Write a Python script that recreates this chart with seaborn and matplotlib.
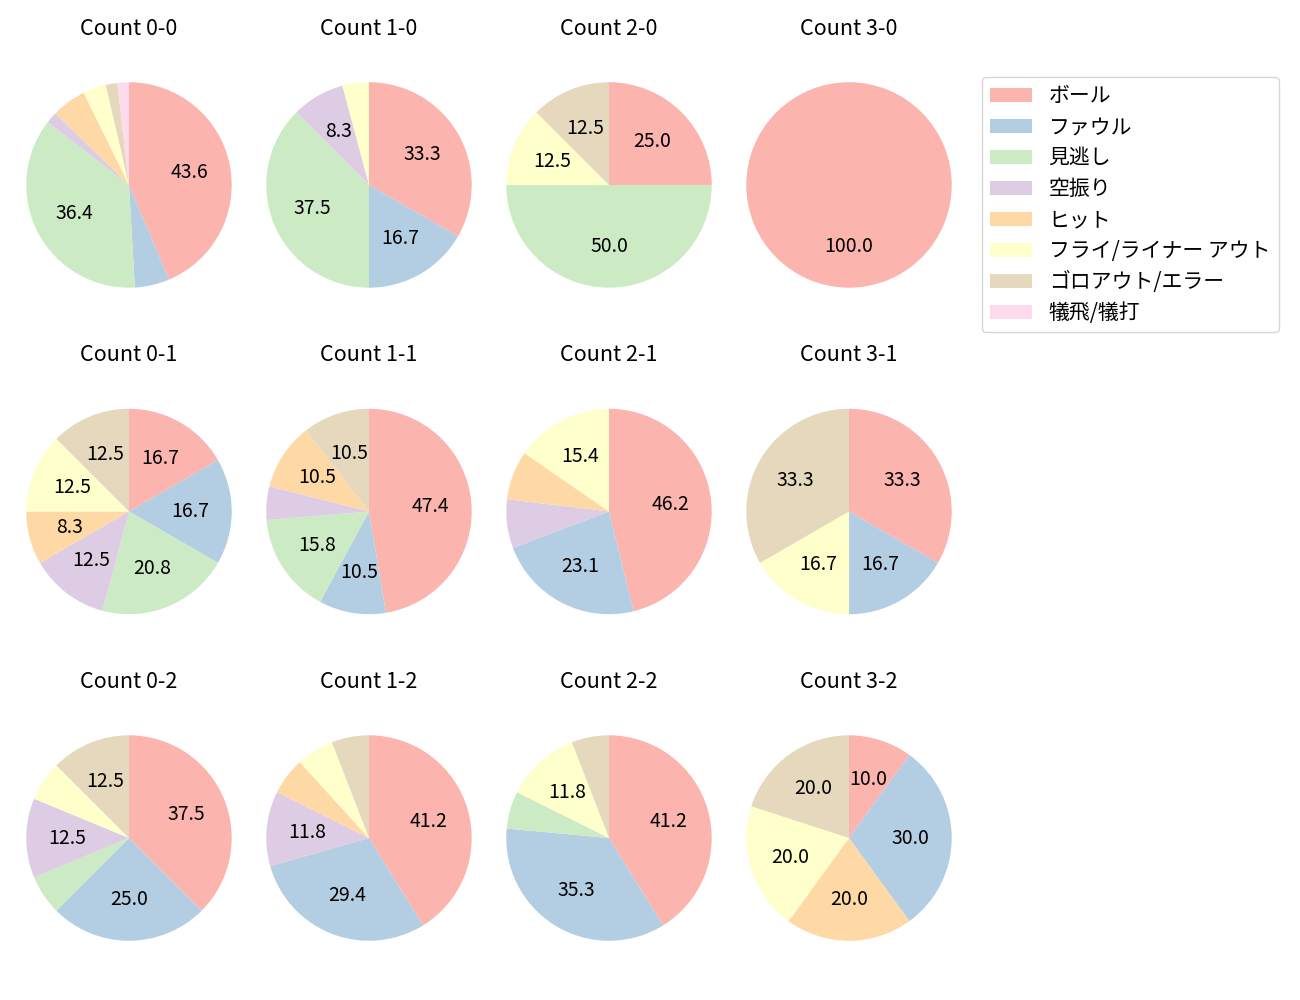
import matplotlib
matplotlib.use("Agg")
import matplotlib.pyplot as plt
import seaborn as sns

sns.set_style("white")
plt.rcParams['font.family'] = ['Noto Sans CJK JP', 'DejaVu Sans']
plt.rcParams['text.color'] = 'black'

categories = ["ボール", "ファウル", "見逃し", "空振り", "ヒット",
              "フライ/ライナー アウト", "ゴロアウト/エラー", "犠飛/犠打"]

counts_labels = ["0-0", "1-0", "2-0", "3-0",
                 "0-1", "1-1", "2-1", "3-1",
                 "0-2", "1-2", "2-2", "3-2"]

c_0_0 = [24, 3, 20, 1, 3, 2, 1, 1]
c_1_0 = [8, 4, 9, 2, 0, 1, 0, 0]
c_2_0 = [2, 0, 4, 0, 0, 1, 1, 0]
c_3_0 = [1, 0, 0, 0, 0, 0, 0, 0]
c_0_1 = [4, 4, 5, 3, 2, 3, 3, 0]
c_1_1 = [9, 2, 3, 1, 2, 0, 2, 0]
c_2_1 = [6, 3, 0, 1, 1, 2, 0, 0]
c_3_1 = [2, 1, 0, 0, 0, 1, 2, 0]
c_0_2 = [6, 4, 1, 2, 0, 1, 2, 0]
c_1_2 = [7, 5, 0, 2, 1, 1, 1, 0]
c_2_2 = [7, 6, 1, 0, 0, 2, 1, 0]
c_3_2 = [1, 3, 0, 0, 2, 2, 2, 0]

all_counts = [c_0_0, c_1_0, c_2_0, c_3_0,
              c_0_1, c_1_1, c_2_1, c_3_1,
              c_0_2, c_1_2, c_2_2, c_3_2]

colors = sns.color_palette("Pastel1", 8)

fig, axes = plt.subplots(3, 4, figsize=(13, 10), dpi=100)
fig.subplots_adjust(left=0.0123, right=0.740, top=0.957, bottom=0.02,
                    wspace=0.062, hspace=0.15)

def fmt(p):
    return f"{p:.1f}" if p >= 8 else ""

legend_wedges = None
for ax, lab, vals in zip(axes.flat, counts_labels, all_counts):
    wedges, texts, autotexts = ax.pie(vals, colors=colors, startangle=90,
                                      counterclock=False, autopct=fmt,
                                      pctdistance=0.6,
                                      wedgeprops={'linewidth': 0},
                                      textprops={'fontsize': 14, 'color': 'black'})
    ax.axis('equal')
    ax.set_title(f"Count {lab}", fontsize=15.5, color='black')
    if lab == "0-0":
        legend_wedges = wedges

fig.legend(legend_wedges, categories, loc="upper left",
           bbox_to_anchor=(0.7554, 0.923), borderaxespad=0,
           fontsize=15, labelspacing=0.43)

fig.savefig("out.png", dpi=100)
